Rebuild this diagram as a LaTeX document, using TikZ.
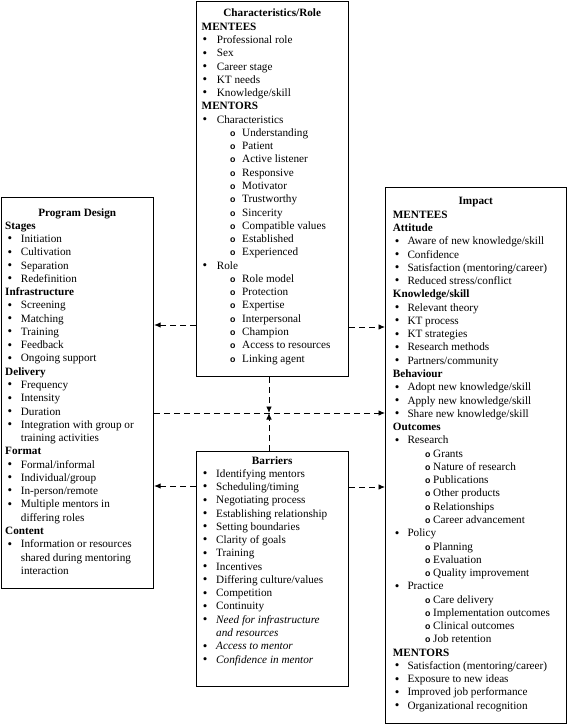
\documentclass[tikz,border=0pt]{standalone}
\usepackage{fontspec}
\setmainfont{Liberation Serif}
\setsansfont{Liberation Sans}
\usetikzlibrary{arrows.meta,calc}
\newlength\hdi \newlength\bui \newlength\txi \newlength\sbi \newlength\sti
\newcommand\Ind[5]{\setlength\hdi{#1}\setlength\bui{#2}\setlength\txi{#3}\setlength\sbi{#4}\setlength\sti{#5}}
\newcommand\Bul{\raisebox{-0.3pt}{\fontsize{13}{13}\selectfont •}}
\newcommand\SBul{{\sffamily\bfseries\fontsize{8.8}{10}\selectfont o}}
\newcommand\Ttl[1]{\hbox to \linewidth{\hss\textbf{#1}\hss}}
\newcommand\Hd[1]{\hbox{\kern\hdi\textbf{#1}}}
\newcommand\It[1]{\hbox{\kern\bui\makebox[0pt][l]{\Bul}\kern\dimexpr\txi-\bui\relax #1}}
\newcommand\Cn[1]{\hbox{\kern\txi #1}}
\newcommand\Sb[1]{\hbox{\kern\sbi\makebox[0pt][l]{\SBul}\kern\dimexpr\sti-\sbi\relax #1}}
\newcommand\Txt[2]{\parbox[t]{#1}{\fontsize{11.2}{13.27}\selectfont #2}}
\begin{document}
\begin{tikzpicture}[x=1pt,y=-1pt,
  box/.style={draw, line width=1.1pt, inner sep=0pt, anchor=north west},
  txt/.style={inner sep=0pt, anchor=base west},
  conn/.style={line width=0.9pt, dash pattern=on 6pt off 4pt, -{Latex[length=6.5pt,width=5.5pt]}}]
\useasboundingbox (0,0) rectangle (568,727);
% boxes
\node[box, minimum width=152pt, minimum height=375pt] (T) at (196,1) {};
\node[box, minimum width=152pt, minimum height=391pt] (L) at (1,197) {};
\node[box, minimum width=181pt, minimum height=536pt] (R) at (385,187) {};
\node[box, minimum width=152pt, minimum height=235pt] (B) at (196,451) {};
% texts
\node[txt] (Ttxt) at (196,17) {\Txt{152pt}{\Ind{5.5pt}{6.3pt}{20.7pt}{34pt}{46pt}%
\Ttl{Characteristics/Role}
\Hd{MENTEES}
\It{Professional role}
\It{Sex}
\It{Career stage}
\It{KT needs}
\It{Knowledge/skill}
\Hd{MENTORS}
\It{Characteristics}
\Sb{Understanding}
\Sb{Patient}
\Sb{Active listener}
\Sb{Responsive}
\Sb{Motivator}
\Sb{Trustworthy}
\Sb{Sincerity}
\Sb{Compatible values}
\Sb{Established}
\Sb{Experienced}
\It{Role}
\Sb{Role model}
\Sb{Protection}
\Sb{Expertise}
\Sb{Interpersonal}
\Sb{Champion}
\Sb{Access to resources}
\Sb{Linking agent}}};
\node[txt] (Ltxt) at (1,216) {\Txt{152pt}{\Ind{4pt}{6.3pt}{19.7pt}{34pt}{46pt}%
\Ttl{Program Design}
\Hd{Stages}
\It{Initiation}
\It{Cultivation}
\It{Separation}
\It{Redefinition}
\Hd{Infrastructure}
\It{Screening}
\It{Matching}
\It{Training}
\It{Feedback}
\It{Ongoing support}
\Hd{Delivery}
\It{Frequency}
\It{Intensity}
\It{Duration}
\It{Integration with group or}
\Cn{training activities}
\Hd{Format}
\It{Formal/informal}
\It{Individual/group}
\It{In-person/remote}
\It{Multiple mentors in}
\Cn{differing roles}
\Hd{Content}
\It{Information or resources}
\Cn{shared during mentoring}
\Cn{interaction}}};
\node[txt] (Rtxt) at (385,205) {\Txt{181pt}{\Ind{7.7pt}{9.7pt}{22.3pt}{40pt}{48pt}%
\Ttl{Impact}
\Hd{MENTEES}
\Hd{Attitude}
\It{Aware of new knowledge/skill}
\It{Confidence}
\It{Satisfaction (mentoring/career)}
\It{Reduced stress/conflict}
\Hd{Knowledge/skill}
\It{Relevant theory}
\It{KT process}
\It{KT strategies}
\It{Research methods}
\It{Partners/community}
\Hd{Behaviour}
\It{Adopt new knowledge/skill}
\It{Apply new knowledge/skill}
\It{Share new knowledge/skill}
\Hd{Outcomes}
\It{Research}
\Sb{Grants}
\Sb{Nature of research}
\Sb{Publications}
\Sb{Other products}
\Sb{Relationships}
\Sb{Career advancement}
\It{Policy}
\Sb{Planning}
\Sb{Evaluation}
\Sb{Quality improvement}
\It{Practice}
\Sb{Care delivery}
\Sb{Implementation outcomes}
\Sb{Clinical outcomes}
\Sb{Job retention}
\Hd{MENTORS}
\It{Satisfaction (mentoring/career)}
\It{Exposure to new ideas}
\It{Improved job performance}
\It{Organizational recognition}}};
\node[txt] (Btxt) at (196,464) {\Txt{152pt}{\Ind{5pt}{6.7pt}{20pt}{34pt}{46pt}%
\Ttl{Barriers}
\It{Identifying mentors}
\It{Scheduling/timing}
\It{Negotiating process}
\It{Establishing relationship}
\It{Setting boundaries}
\It{Clarity of goals}
\It{Training}
\It{Incentives}
\It{Differing culture/values}
\It{Competition}
\It{Continuity}
\It{\textit{Need for infrastructure}}
\Cn{\textit{and resources}}
\It{\textit{Access to mentor}}
\It{\textit{Confidence in mentor}}}};
% connectors
\coordinate (J) at (269,413);
\coordinate (y1) at (0,325);
\coordinate (y2) at (0,327);
\coordinate (y3) at (0,486);
\coordinate (y4) at (0,487);
\draw[conn] (T.west |- y1) -- (L.east |- y1);
\draw[conn] (T.east |- y2) -- (R.west |- y2);
\draw[conn] (B.west |- y3) -- (L.east |- y3);
\draw[conn] (B.east |- y4) -- (R.west |- y4);
\draw[conn] (L.east |- J) -- (R.west |- J);
\draw[conn] (T.south -| J) -- (J);
\draw[conn] (B.north -| J) -- (J);
\end{tikzpicture}
\end{document}
